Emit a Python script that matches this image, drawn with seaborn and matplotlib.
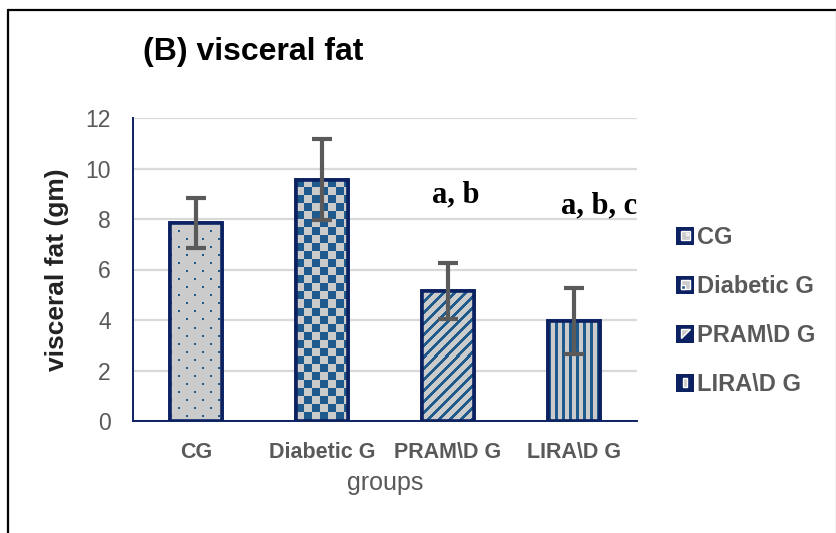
import numpy as np
import matplotlib
matplotlib.use("Agg")
import matplotlib.pyplot as plt
import seaborn as sns
from matplotlib.patches import Rectangle, Patch, Polygon
from matplotlib.legend_handler import HandlerBase
from matplotlib.lines import Line2D

# Data
groups = ["CG", "Diabetic G", "PRAM\\D G", "LIRA\\D G"]
means = [7.85, 9.55, 5.15, 3.95]
sds = [1.0, 1.6, 1.1, 1.3]
sig_labels = ["", "", "a, b", "a, b, c"]
y_ticks = [0, 2, 4, 6, 8, 10, 12]

NAVY = "#0b2162"
BLUE = "#1f5a8c"
GREY = "#cbcbcb"
TXT = "#595959"

sns.set_style("white")
plt.rcParams["font.family"] = ["Liberation Sans", "DejaVu Sans"]

fig = plt.figure(figsize=(8.37, 5.33), dpi=100)
ax = fig.add_axes([133 / 837, 1 - 421 / 533, 504 / 837, 303 / 533])

sns.barplot(x=groups, y=means, ax=ax, width=0.42, color=GREY,
            edgecolor=NAVY, linewidth=2.6, saturation=1, errorbar=None, zorder=2)

ax.set_ylim(0, 12)
ax.set_xlim(-0.5, 3.5)
ax.set_yticks(y_ticks)
ax.yaxis.grid(True, color="#d9d9d9", linewidth=1.6, zorder=0)
ax.set_axisbelow(True)
for side in ("top", "right"):
    ax.spines[side].set_visible(False)
for side in ("left", "bottom"):
    ax.spines[side].set_color(NAVY)
    ax.spines[side].set_linewidth(1.4)
ax.tick_params(axis="y", colors=NAVY, length=6, width=1.3, pad=10,
               labelcolor=TXT, labelsize=16.5)
ax.tick_params(axis="x", length=0, pad=15, labelcolor=TXT, labelsize=15.5)
for lbl in ax.get_xticklabels():
    lbl.set_fontweight("bold")

ax.set_xlabel("groups", fontsize=18, color=TXT, labelpad=6)
ax.set_ylabel("visceral fat (gm)", fontsize=19, fontweight="bold",
              color="#222222", labelpad=12)


# Pixel-level fill patterns for each bar
def pattern(kind, h, w):
    i, j = np.mgrid[0:h, 0:w]
    if kind == 0:
        r = i % 8
        mask = (r < 2) & (((j + ((i // 8) % 2) * 8) % 16) < 2)
    elif kind == 1:
        mask = ((i // 8) + (j // 8)) % 2 == 0
    elif kind == 2:
        mask = ((i + j) % 11) < 4
    else:
        mask = (j % 7) < 3
    grey = np.array(matplotlib.colors.to_rgb(GREY))
    blue = np.array(matplotlib.colors.to_rgb(BLUE))
    img = np.where(mask[..., None], blue, grey)
    return img


bars = list(ax.patches)[:len(groups)]
for k, bar in enumerate(bars):
    bb = bar.get_bbox()
    d0 = ax.transData.transform((bb.x0, bb.y0))
    d1 = ax.transData.transform((bb.x1, bb.y1))
    w = max(1, int(round(d1[0] - d0[0])))
    h = max(1, int(round(d1[1] - d0[1])))
    im = ax.imshow(pattern(k, h, w), extent=(bb.x0, bb.x1, bb.y0, bb.y1),
                   origin="upper", aspect="auto", interpolation="nearest",
                   zorder=2.5)
    im.set_clip_path(bar)
    ax.add_patch(Rectangle((bb.x0, bb.y0), bb.width, bb.height, fill=False,
                           edgecolor=NAVY, linewidth=2.6, zorder=3))

ax.set_xlim(-0.5, 3.5)
ax.set_ylim(0, 12)

ax.errorbar(np.arange(len(groups)), means, yerr=sds, fmt="none",
            ecolor="#5a5a5a", elinewidth=3, capsize=7, capthick=3, zorder=4)

# Significance letters
offsets = [0, 0, 0.06, 0.2]
heights = [0, 0, 8.95, 8.5]
for k, s in enumerate(sig_labels):
    if s:
        ax.text(k + offsets[k], heights[k], s, ha="center", va="center",
                fontsize=22, fontweight="bold", family="Liberation Serif",
                color="black")


# Legend swatches
class SwatchHandler(HandlerBase):
    def create_artists(self, legend, orig_handle, xdescent, ydescent,
                       width, height, fontsize, trans):
        s = min(width, height)
        x0 = -xdescent + (width - s) / 2
        y0 = -ydescent + (height - s) / 2
        kind = int(orig_handle.get_gid())
        arts = [Rectangle((x0, y0), s, s, facecolor=NAVY, edgecolor="none",
                          transform=trans)]
        a, b = x0 + s * 0.25, y0 + s * 0.25
        q = s * 0.5
        if kind == 0:
            arts.append(Rectangle((a, b), q, q, facecolor=GREY, transform=trans))
            arts.append(Rectangle((a + q * 0.55, b + q * 0.55), q * 0.3, q * 0.3,
                                  facecolor=BLUE, transform=trans))
        elif kind == 1:
            arts.append(Rectangle((a, b), q, q, facecolor=GREY, transform=trans))
            arts.append(Rectangle((a, b), q * 0.5, q * 0.5, facecolor=BLUE,
                                  transform=trans))
        elif kind == 2:
            arts.append(Polygon([(a, b), (a, b + q), (a + q, b + q)],
                                closed=True, facecolor=GREY, transform=trans))
        else:
            arts.append(Rectangle((a + q * 0.25, b), q * 0.5, q,
                                  facecolor=GREY, transform=trans))
        return arts


handles = []
for k, g in enumerate(groups):
    p = Patch(label=g)
    p.set_gid(str(k))
    handles.append(p)
leg = fig.legend(handles=handles, handler_map={Patch: SwatchHandler()},
                 loc="upper left", bbox_to_anchor=(676 / 837, 1 - 226 / 533),
                 frameon=False, borderpad=0, borderaxespad=0,
                 handlelength=0.78, handleheight=0.78, handletextpad=0.12,
                 labelspacing=1.1, prop={"size": 17, "weight": "bold"})
for t in leg.get_texts():
    t.set_color(TXT)

# Title
fig.text(143 / 837, 1 - 52 / 533, "(B) visceral fat", fontsize=23,
         fontweight="bold", color="black", ha="left", va="center")

# Outer frame
H, W = 533, 837
fig.add_artist(Line2D([8 / W, 836 / W], [1 - 10 / H, 1 - 10 / H],
                      transform=fig.transFigure, color="black", linewidth=1.6))
fig.add_artist(Line2D([8 / W, 8 / W], [0, 1 - 10 / H],
                      transform=fig.transFigure, color="black", linewidth=1.6))
fig.add_artist(Line2D([836 / W, 836 / W], [0, 1 - 10 / H],
                      transform=fig.transFigure, color="#bbbbbb", linewidth=1.0))

fig.savefig("out.png", dpi=100)
